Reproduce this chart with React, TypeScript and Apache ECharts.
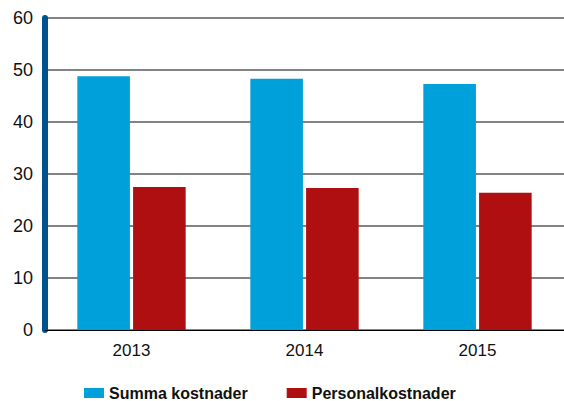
import React, { useEffect, useRef } from "react";
import * as echarts from "echarts";

const categories = ["2013", "2014", "2015"];
const summaKostnader = [48.8, 48.3, 47.3];
const personalkostnader = [27.5, 27.3, 26.4];
const seriesNames = ["Summa kostnader", "Personalkostnader"];

export default function App() {
  const ref = useRef<HTMLDivElement>(null);
  useEffect(() => {
    if (!ref.current) return;
    const chart = echarts.init(ref.current, null, { renderer: "svg" });
    chart.setOption({
      animation: false,
      backgroundColor: "#ffffff",
      grid: { left: 45, top: 18, width: 524, height: 312, containLabel: false },
      legend: {
        left: 79,
        top: 380,
        itemWidth: 20,
        itemHeight: 10,
        itemGap: 39,
        icon: "rect",
        textStyle: {
          fontFamily: "Liberation Sans",
          fontWeight: "bold",
          fontSize: 16,
          color: "#111",
        },
        data: seriesNames,
      },
      xAxis: {
        type: "category",
        data: categories,
        axisLine: { show: true, lineStyle: { color: "#000", width: 1 } },
        axisTick: { show: false },
        axisLabel: {
          fontFamily: "Liberation Sans",
          fontSize: 17,
          color: "#111",
          margin: 12,
        },
      },
      yAxis: {
        type: "value",
        min: 0,
        max: 60,
        interval: 10,
        axisLine: { show: true, lineStyle: { color: "#00528c", width: 6 } },
        axisTick: { show: false },
        splitLine: { show: true, lineStyle: { color: "#5a5a5a", width: 1.5 } },
        axisLabel: {
          fontFamily: "Liberation Sans",
          fontSize: 18,
          color: "#111",
          margin: 12,
        },
      },
      series: [
        {
          name: seriesNames[0],
          type: "bar",
          data: summaKostnader,
          barWidth: "30.4%",
          barGap: "6%",
          itemStyle: { color: "#00a0da" },
          z: 3,
        },
        {
          name: seriesNames[1],
          type: "bar",
          data: personalkostnader,
          barWidth: "30.4%",
          barGap: "6%",
          itemStyle: { color: "#b00f12" },
          z: 3,
        },
      ],
    });
    return () => chart.dispose();
  }, []);
  return (
    <div
      ref={ref}
      style={{ position: "fixed", left: 0, top: 0, width: 564, height: 401 }}
    />
  );
}
